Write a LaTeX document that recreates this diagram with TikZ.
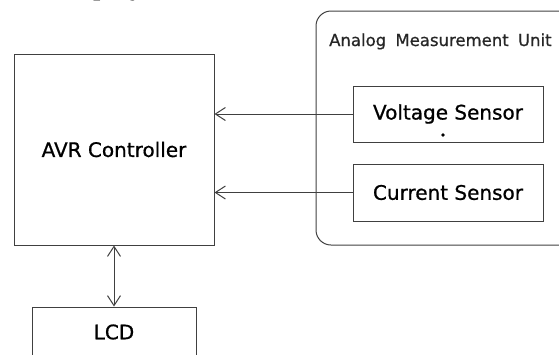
\documentclass[tikz,border=0pt]{standalone}
\usepackage{fontspec}
\setmainfont{DejaVu Sans}
\newfontfamily\diagfont[FakeBold=0.8]{DejaVu Sans}
\newfontfamily\pagefont{Liberation Serif}
\usetikzlibrary{positioning, arrows.meta}

\begin{document}
\begin{tikzpicture}[
        x=1pt,
        y=-1pt,
        block/.style={
            rectangle,
            draw=black!75,
            line width=1pt,
            inner sep=0pt,
            font=\diagfont\fontsize{20}{24}\selectfont
        },
        unitbox/.style={
            rectangle,
            draw=black!75,
            line width=1pt,
            rounded corners=15pt,
            inner sep=0pt
        },
        link/.style={
            draw=black!75,
            line width=1pt,
            >={Straight Barb[length=10pt, width=13pt]}
        }
    ]

    % --------------------------------------------------------
    % Frame of the cut-out
    % --------------------------------------------------------

    \clip (0,0) rectangle (559,354);

    \node[
        anchor=base west,
        inner sep=0pt,
        font=\pagefont\fontsize{30}{36}\selectfont
    ]
    (pagetext)
    at (58,-5.5)
    {display};

    % --------------------------------------------------------
    % Analog measurement unit
    % --------------------------------------------------------

    \node[
        unitbox,
        minimum width=264pt,
        minimum height=234pt
    ]
    (unit)
    at (448,128) {};

    \node[
        anchor=base west,
        inner sep=0pt,
        text=black!85,
        font=\diagfont\fontsize{16.5}{20}\selectfont
    ]
    (unitlabel)
    at (329,46)
    {Analog\hspace{4pt} Measurement\hspace{4pt} Unit};

    \node[
        block,
        minimum width=190pt,
        minimum height=56pt
    ]
    (voltage)
    at (448,114)
    {Voltage Sensor};

    \fill[black]
    (443,135) circle (1.8pt);

    \node[
        block,
        minimum width=190pt,
        minimum height=57pt
    ]
    (current)
    at (448,192.5)
    {Current Sensor};

    % --------------------------------------------------------
    % Controller and display
    % --------------------------------------------------------

    \node[
        block,
        minimum width=200pt,
        minimum height=191pt
    ]
    (avr)
    at (114,149.5)
    {AVR Controller};

    \node[
        block,
        minimum width=164pt,
        minimum height=50pt
    ]
    (lcd)
    at (114,332)
    {LCD};

    % --------------------------------------------------------
    % Connections
    % --------------------------------------------------------

    \draw[
        link,
        ->
    ]
    (voltage.west)
    -- (voltage.west -| avr.east);

    \draw[
        link,
        ->
    ]
    (current.west)
    -- (current.west -| avr.east);

    \draw[
        link,
        <->
    ]
    (avr.south)
    -- (lcd.north);

\end{tikzpicture}
\end{document}
